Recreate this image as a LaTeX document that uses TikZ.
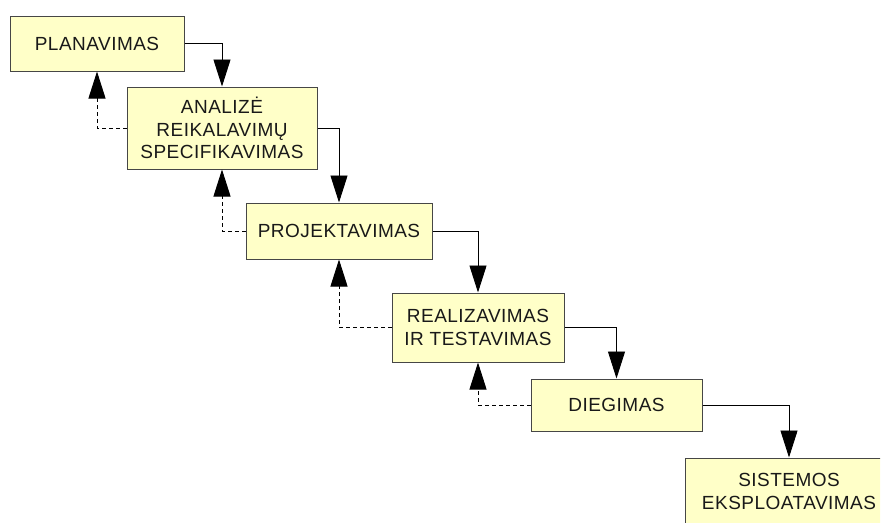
\documentclass[tikz,border=0pt]{standalone}
\usepackage{fontspec}
\setmainfont[LetterSpace=2.5]{Liberation Sans}
\usetikzlibrary{arrows.meta}
\definecolor{boxfill}{RGB}{255,255,200}
\definecolor{boxline}{RGB}{70,70,70}
\definecolor{ink}{RGB}{25,25,25}
\begin{document}
\begin{tikzpicture}[x=1pt,y=-1pt,
  stage/.style={draw=boxline, fill=boxfill, line width=1pt, align=center,
    inner sep=0pt, text=ink, font=\fontsize{19}{22.5}\selectfont},
  flow/.style={draw=black, line width=0.9pt, -{Triangle[length=27pt,width=17pt]}},
  back/.style={flow, dash pattern=on 4pt off 3pt}
]
\useasboundingbox (0,0) rectangle (883,522);
\clip (0,0) rectangle (880,522);

% stages of the waterfall
\node[stage, minimum width=174pt, minimum height=55pt] (plan) at (97,43.5) {PLANAVIMAS};
\node[stage, minimum width=190pt, minimum height=82pt] (anal) at (222,128) {ANALIZĖ\\REIKALAVIMŲ\\SPECIFIKAVIMAS};
\node[stage, minimum width=186pt, minimum height=56pt] (proj) at (339,231) {PROJEKTAVIMAS};
\node[stage, minimum width=172pt, minimum height=69pt] (real) at (478,327.5) {REALIZAVIMAS\\IR TESTAVIMAS};
\node[stage, minimum width=171pt, minimum height=52pt] (dieg) at (616.5,405) {DIEGIMAS};
\node[stage, minimum width=208pt, minimum height=67pt] (eksp) at (789,491.5) {SISTEMOS\\EKSPLOATAVIMAS};

% forward steps
\draw[flow] (plan.east) -| (anal.north);
\draw[flow] (anal.east) -| (proj.north);
\draw[flow] (proj.east) -| (real.north);
\draw[flow] (real.east) -| (dieg.north);
\draw[flow] (dieg.east) -| (eksp.north);

% feedback to the previous stage
\draw[back] (anal.west) -| (plan.south);
\draw[back] (proj.west) -| (anal.south);
\draw[back] (real.west) -| (proj.south);
\draw[back] (dieg.west) -| (real.south);
\end{tikzpicture}
\end{document}
